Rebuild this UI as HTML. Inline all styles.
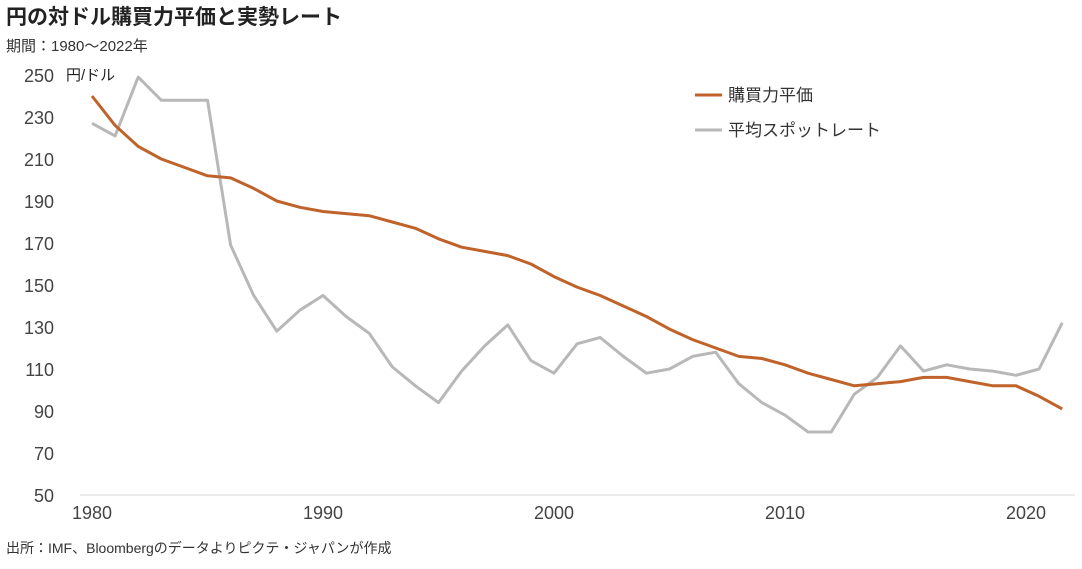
<!DOCTYPE html>
<html><head><meta charset="utf-8">
<style>
body{margin:0;background:#fff;}
svg text{font-family:"Liberation Sans","Noto Sans CJK JP",sans-serif;}
</style></head>
<body>
<svg id="chart" width="1082" height="564" viewBox="0 0 1082 564" xmlns="http://www.w3.org/2000/svg">
<text x="6" y="24" font-size="21" font-weight="bold" fill="#222">円の対ドル購買力平価と実勢レート</text>
<text x="6" y="51" font-size="15" fill="#333">期間：1980～2022年</text>
<text x="66" y="80" font-size="15" fill="#222">円/ドル</text>
<text x="6" y="553" font-size="14" fill="#333">出所：IMF、Bloombergのデータよりピクテ・ジャパンが作成</text>
<g id="axes"></g>
<g id="series"></g>
<g>
<line x1="695" y1="95" x2="722" y2="95" stroke="#C0632A" stroke-width="3"/>
<text x="728" y="101" font-size="17" fill="#333">購買力平価</text>
<line x1="695" y1="130" x2="722" y2="130" stroke="#B8B8B8" stroke-width="3"/>
<text x="728" y="136" font-size="17" fill="#333">平均スポットレート</text>
</g>
</svg>
<script>
const years = [];
for (let y = 1980; y <= 2022; y++) years.push(y);
const ppp = [240,226,216,210,206,202,201,196,190,187,185,184,183,180,177,172,168,166,164,160,154,149,145,140,135,129,124,120,116,115,112,108,105,102,103,104,106,106,104,102,102,97,91];
const spot = [227,221,249,238,238,238,169,145,128,138,145,135,127,111,102,94,109,121,131,114,108,122,125,116,108,110,116,118,103,94,88,80,80,98,106,121,109,112,110,109,107,110,132];
const yTicks = [50,70,90,110,130,150,170,190,210,230,250];
const xTicks = [1980,1990,2000,2010,2020];
const NS = "http://www.w3.org/2000/svg";
const xs = yr => 92 + (yr - 1980) * 23.1;
const ys = v => 495 - (v - 50) * 2.1;
const axes = document.getElementById('axes');
const base = document.createElementNS(NS,'line');
base.setAttribute('x1',80);base.setAttribute('x2',1075);
base.setAttribute('y1',495);base.setAttribute('y2',495);
base.setAttribute('stroke','#d9d9d9');


axes.appendChild(base);
yTicks.forEach(v => {
  const t = document.createElementNS(NS,'text');
  t.setAttribute('x',54);t.setAttribute('y',ys(v)+7);
  t.setAttribute('text-anchor','end');t.setAttribute('font-size','18');t.setAttribute('fill','#444');
  t.textContent = v;
  
  
  axes.appendChild(t);
});
xTicks.forEach(v => {
  const t = document.createElementNS(NS,'text');
  t.setAttribute('x',xs(v)+(v===2020?10:0));t.setAttribute('y',519);
  t.setAttribute('text-anchor','middle');t.setAttribute('font-size','18');t.setAttribute('fill','#444');
  t.textContent = v;
  
  
  axes.appendChild(t);
});
const series = document.getElementById('series');
function line(vals, color, name){
  const p = document.createElementNS(NS,'polyline');
  p.setAttribute('points', vals.map((v,i)=>xs(years[i])+','+ys(v)).join(' '));
  p.setAttribute('fill','none');p.setAttribute('stroke',color);p.setAttribute('stroke-width','3');
  p.setAttribute('stroke-linejoin','round');
  
  
  series.appendChild(p);
}
line(spot,'#B8B8B8','spot-rate-line');
line(ppp,'#C0632A','ppp-line');
</script>
</body></html>
